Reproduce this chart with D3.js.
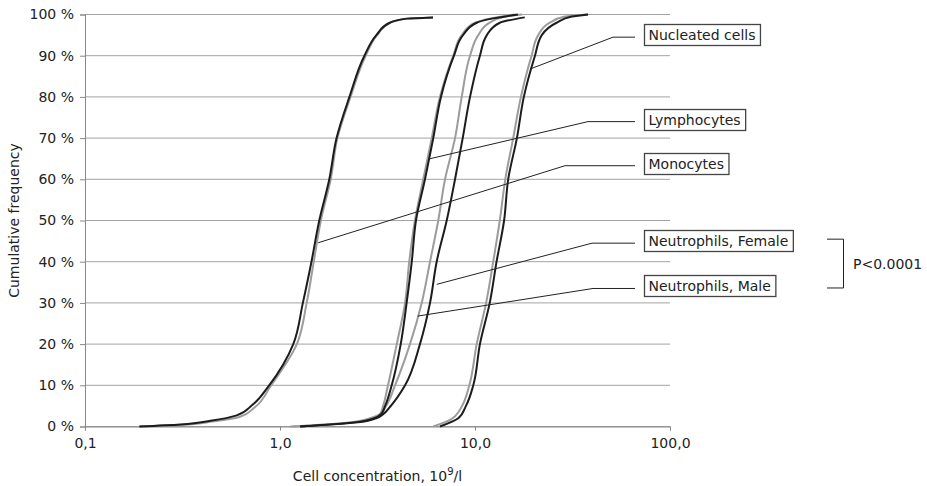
<!DOCTYPE html>
<html>
<head>
<meta charset="utf-8">
<script src="https://cdn.jsdelivr.net/npm/d3@7"></script>
<style>
  body { margin: 0; background: #fff; }
  text { font-family: "DejaVu Sans", Verdana, sans-serif; fill: #222; }
</style>
</head>
<body>
<svg id="chart" width="927" height="486"></svg>
<script>
// tick values and labels
const xTicks = [0.1, 1, 10, 100];
const xTickLabels = ['0,1', '1,0', '10,0', '100,0'];
const yTicks = [0, 10, 20, 30, 40, 50, 60, 70, 80, 90, 100];

// cumulative curves: [concentration 10^9/l, cumulative %]
const monoBlack = [[0.19,0],[0.31,0.5],[0.44,1.4],[0.60,2.7],[0.72,5.2],[0.88,10],[1.17,20],[1.31,30],[1.45,40],[1.59,50],[1.79,60],[1.95,70],[2.27,80],[2.71,90],[3.12,95],[3.65,98],[4.46,99],[6.09,99.3]];
const monoGray  = [[0.19,0],[0.31,0.4],[0.45,1.2],[0.62,2.3],[0.74,4.6],[0.90,10],[1.22,20],[1.37,30],[1.49,40],[1.62,50],[1.82,60],[1.97,70],[2.30,80],[2.75,90],[3.15,95],[3.68,98],[4.50,99],[6.09,99.3]];
const lymphGray = [[1.17,0],[2.37,1],[3.0,2],[3.26,3],[3.38,5],[3.58,10],[3.97,20],[4.38,30],[4.60,40],[4.92,50],[5.43,60],[6.0,70],[6.61,80],[7.74,90],[8.55,95],[10.0,98],[11.9,99],[16.0,100]];
const lymphBlack = [[1.27,0],[2.42,1],[3.04,2],[3.30,3],[3.46,5],[3.74,10],[4.16,20],[4.46,30],[4.74,40],[4.98,50],[5.54,60],[6.11,70],[6.69,80],[7.80,90],[8.68,95],[10.2,98],[12.2,99],[16.6,100]];
const neutMale = [[1.13,0],[2.29,1],[2.89,2],[3.26,3],[3.50,5],[3.89,10],[4.64,20],[5.33,30],[5.88,40],[6.48,50],[7.02,60],[7.90,70],[8.55,80],[9.43,90],[10.4,95],[11.9,98],[14.3,99.5],[17.4,100]];
const neutFemale = [[1.27,0],[2.51,1],[3.11,2],[3.38,3],[3.67,4.8],[4.38,10],[5.22,20],[5.88,30],[6.36,40],[7.16,50],[7.90,60],[8.65,70],[9.43,80],[10.6,90],[11.5,95],[13.4,98],[18.0,99.3]];
const nucGray  = [[6.11,0],[7.44,1.6],[7.90,2.5],[8.58,5],[9.35,10],[10.2,20],[11.4,30],[12.4,40],[13.4,50],[14.3,60],[15.7,70],[17.2,80],[19.5,90],[21.1,95],[24.2,98],[28.9,99.5],[38.0,100]];
const nucBlack = [[6.61,0],[8.21,2],[8.99,5],[9.80,10],[10.6,20],[11.9,30],[12.9,40],[14.1,50],[14.8,60],[16.4,70],[17.8,80],[20.3,90],[22.0,95],[26.2,98],[31.4,99.5],[38.0,100]];

const grayCurves = [monoGray, lymphGray, neutMale, nucGray];
const blackCurves = [monoBlack, lymphBlack, neutFemale, nucBlack];

// callouts: label, point on the curve it points to
const calloutLabels = ['Nucleated cells', 'Lymphocytes', 'Monocytes', 'Neutrophils, Female', 'Neutrophils, Male'];
const calloutTargets = [[19.5, 86.9], [5.76, 64.9], [1.57, 44.6], [6.36, 34.5], [5.08, 26.8]];
const calloutLevels = [94.5, 74.0, 63.3, 44.5, 33.5]; // % level of the horizontal part
const pValue = 'P<0.0001';

const svg = d3.select('#chart');
const plotLeft = 85, plotRight = 670, plotTop = 14.5, plotBottom = 426.5;

const x = d3.scaleLog().domain([0.1, 100]).range([plotLeft, plotRight]);
const y = d3.scaleLinear().domain([0, 100]).range([plotBottom, plotTop]);

// grid
svg.append('g')
  .selectAll('line')
  .data(yTicks)
  .enter()
  .append('line')
  .attr('x1', plotLeft).attr('x2', plotRight)
  .attr('y1', d => y(d)).attr('y2', d => y(d))
  .attr('stroke', '#a3a3a3').attr('stroke-width', 1);

// axes
const yAxis = d3.axisLeft(y).tickValues(yTicks).tickSize(5).tickPadding(6).tickFormat(d => d + ' %');
const xAxis = d3.axisBottom(x).tickValues(xTicks).tickSize(4).tickPadding(8).tickFormat((d, i) => xTickLabels[i]);

const yAxisGroup = svg.append('g').attr('transform', `translate(${plotLeft},0)`).call(yAxis);
const xAxisGroup = svg.append('g').attr('transform', `translate(0,${plotBottom})`).call(xAxis);
[yAxisGroup, xAxisGroup].forEach(g => {
  g.select('.domain').attr('stroke', '#888');
  g.selectAll('.tick line').attr('stroke', '#888');
  g.selectAll('text').attr('font-size', 14).attr('fill', '#222')
    .attr('font-family', '"DejaVu Sans", Verdana, sans-serif');
});

// axis titles
svg.append('text')
  .attr('transform', `translate(19,${(plotTop + plotBottom) / 2}) rotate(-90)`)
  .attr('text-anchor', 'middle')
  .attr('font-size', 14)
  .text('Cumulative frequency');

const xt = svg.append('text')
  .attr('x', (plotLeft + plotRight) / 2).attr('y', 481)
  .attr('text-anchor', 'middle')
  .attr('font-size', 14);
xt.append('tspan').text('Cell concentration, 10');
xt.append('tspan').attr('font-size', 10).attr('dy', -6).text('9');
xt.append('tspan').attr('dy', 6).text('/l');

// curves (x as a smooth function of y, since they are near vertical)
const line = d3.line().x(d => x(d[0])).y(d => y(d[1])).curve(d3.curveMonotoneY);

svg.append('g').selectAll('path').data(grayCurves).enter().append('path')
  .attr('d', line).attr('fill', 'none').attr('stroke', '#9c9c9c').attr('stroke-width', 2);
svg.append('g').selectAll('path').data(blackCurves).enter().append('path')
  .attr('d', line).attr('fill', 'none').attr('stroke', '#1c1c1c').attr('stroke-width', 2);

// callouts (layout in px: where the leader bends and where the box starts)
const elbowX = [613, 588, 565, 592, 593];
const lineEnd = 635, boxX = 644;
const callouts = svg.append('g');
calloutLabels.forEach((label, i) => {
  const t = calloutTargets[i];
  const ly = y(calloutLevels[i]);
  callouts.append('polyline')
    .attr('points', [[x(t[0]), y(t[1])], [elbowX[i], ly], [lineEnd, ly]].map(p => p.join(',')).join(' '))
    .attr('fill', 'none').attr('stroke', '#222').attr('stroke-width', 1);
  const txt = callouts.append('text')
    .attr('x', boxX + 4.5).attr('y', ly + 3)
    .attr('font-size', 14)
    .text(label);
  const bb = txt.node().getBBox();
  callouts.insert('rect', 'text')
    .attr('x', boxX + 0.5).attr('y', Math.round(ly - 13) + 0.5)
    .attr('width', bb.width + 9).attr('height', 21)
    .attr('fill', '#fff').attr('stroke', '#444').attr('stroke-width', 1.3);
});

// bracket between the two neutrophil labels
const bTop = y(calloutLevels[3]) - 4, bBot = y(calloutLevels[4]) - 0.5;
svg.append('polyline')
  .attr('points', `827,${bTop} 843.5,${bTop} 843.5,${bBot} 827,${bBot}`)
  .attr('fill', 'none').attr('stroke', '#222').attr('stroke-width', 1);
svg.append('text')
  .attr('x', 853).attr('y', (bTop + bBot) / 2 + 5)
  .attr('font-size', 14)
  .text(pValue);
</script>
</body>
</html>
